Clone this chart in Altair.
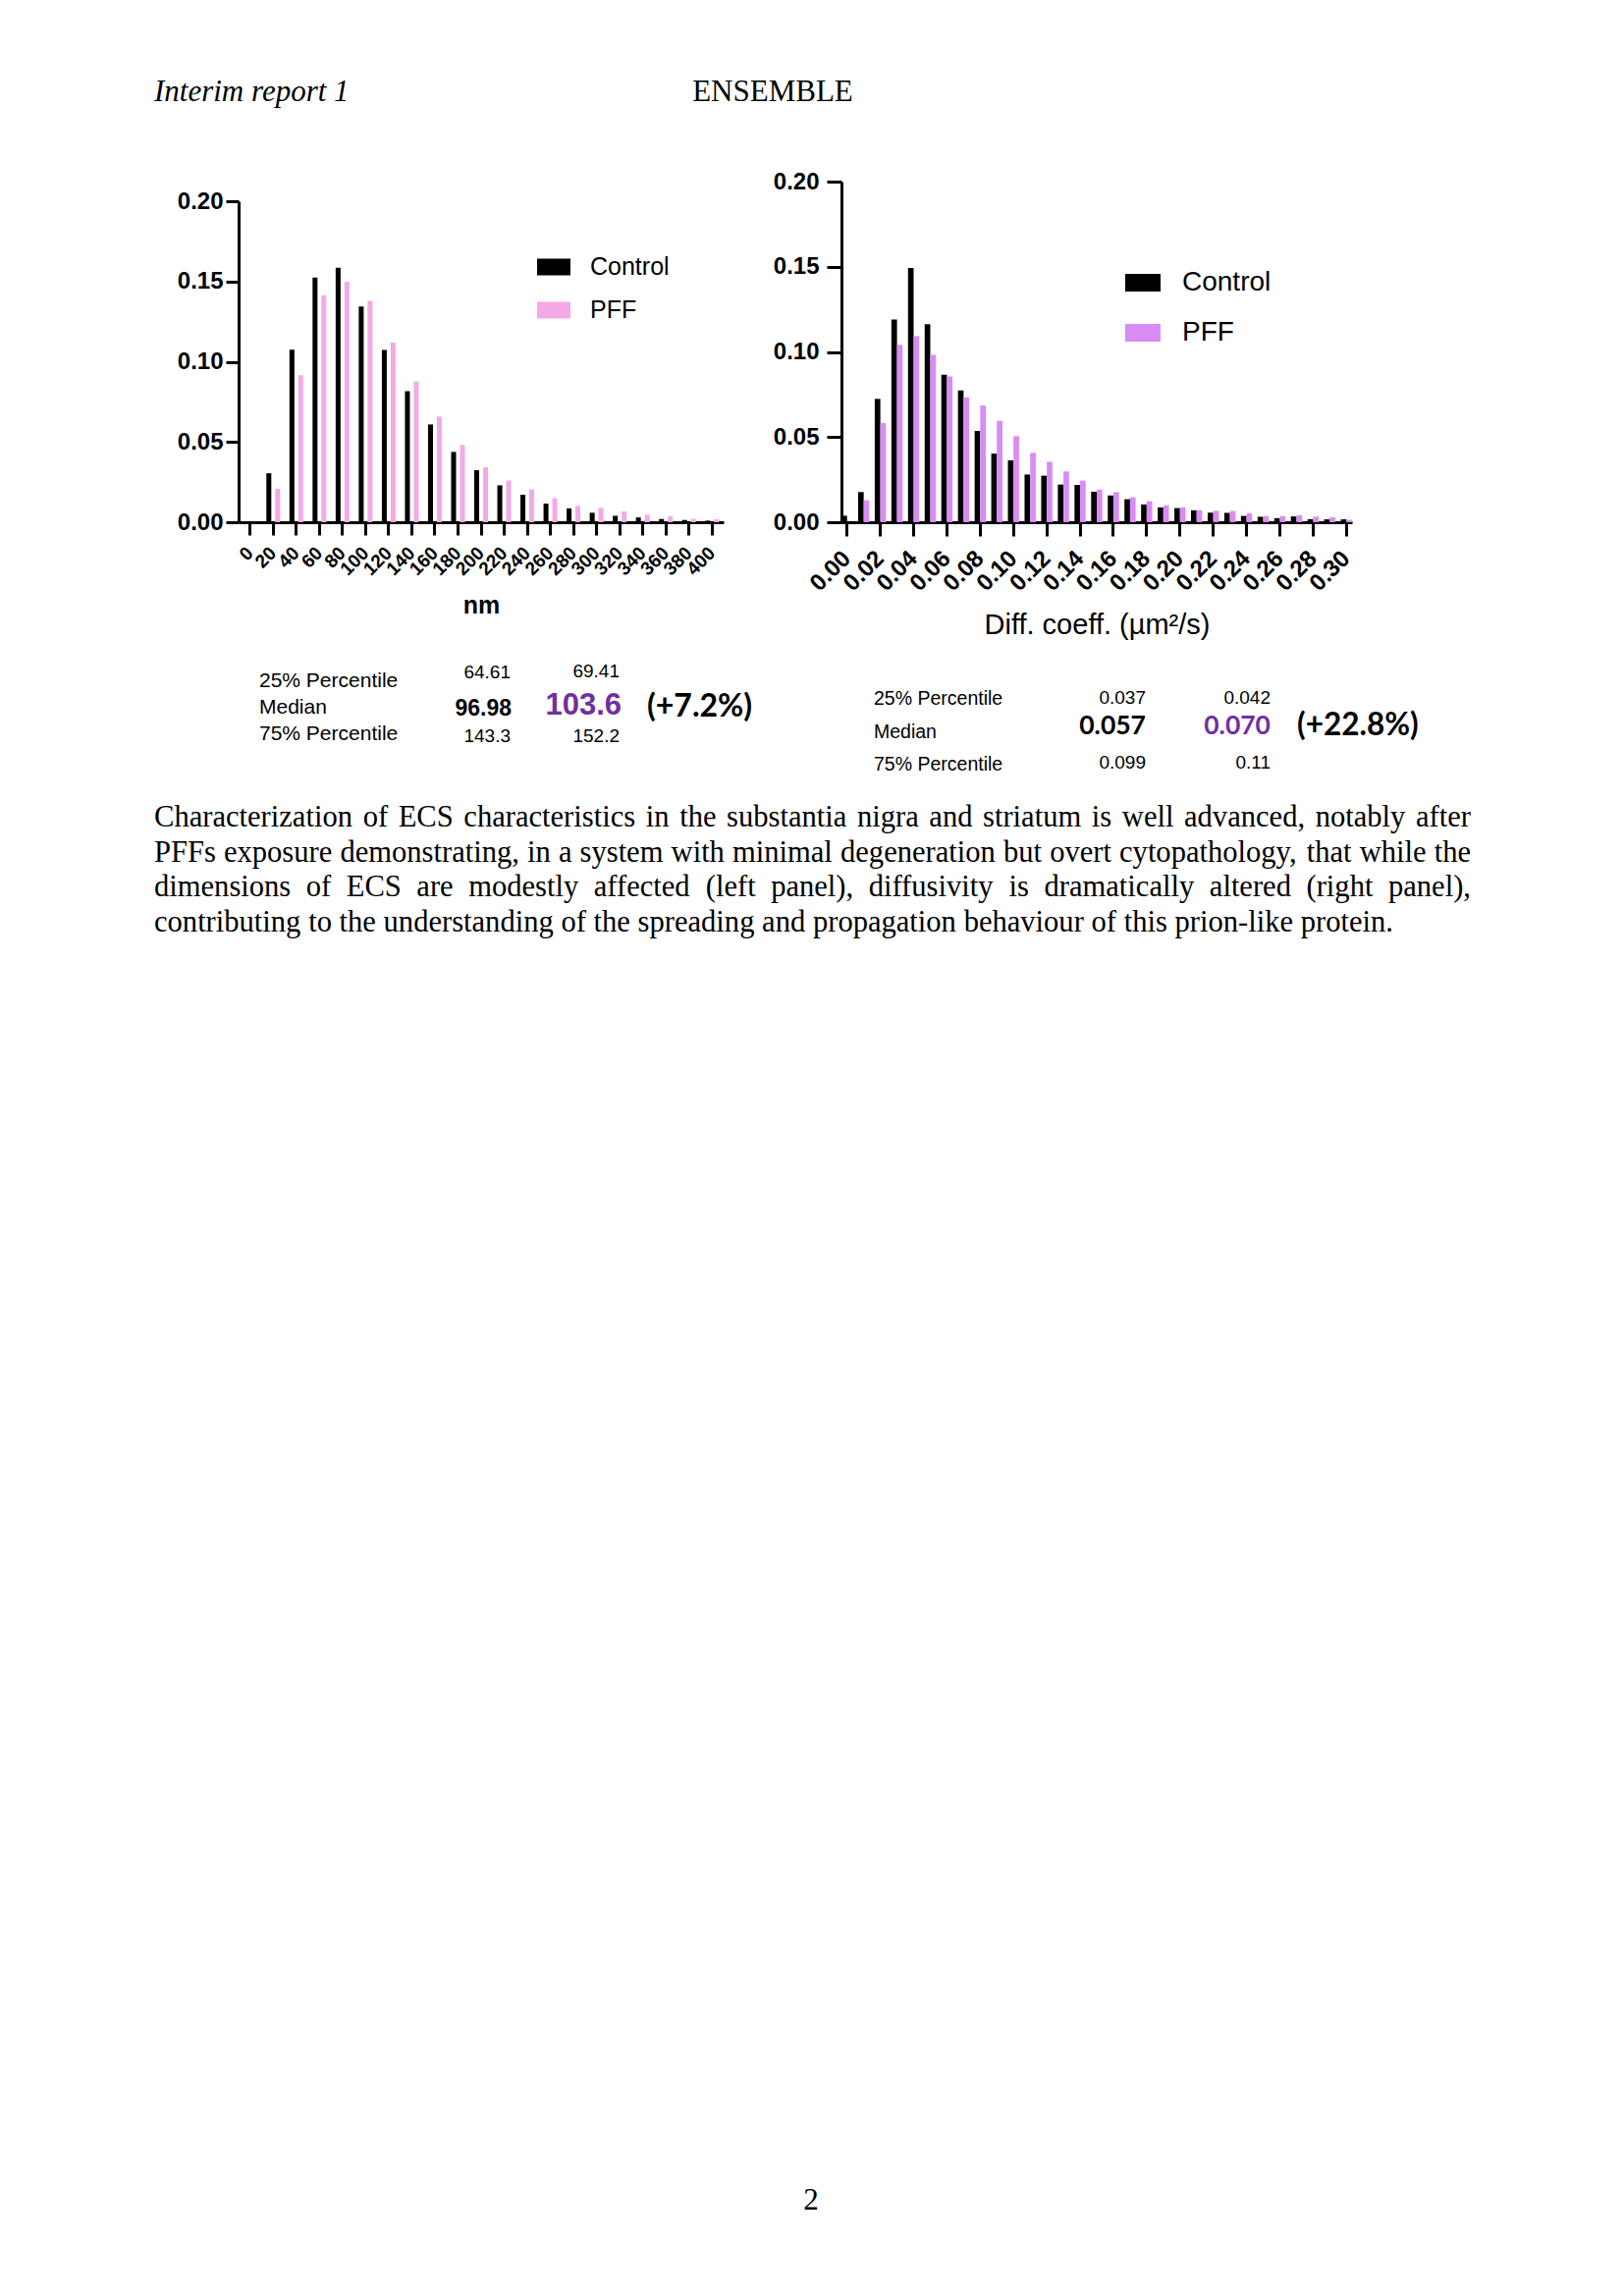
import altair as alt
import pandas as pd

# ---------------- data ----------------
series = ["Control", "PFF"]

nm_bins = ["0", "20", "40", "60", "80", "100", "120", "140", "160", "180", "200",
           "220", "240", "260", "280", "300", "320", "340", "360", "380", "400"]
nm_control = [0.0, 0.0305, 0.1075, 0.1525, 0.1585, 0.1344, 0.1073, 0.0817, 0.0609, 0.0438, 0.0324,
              0.0230, 0.0172, 0.0116, 0.0086, 0.0059, 0.0040, 0.0030, 0.0020, 0.0014, 0.0010]
nm_pff = [0.0, 0.0208, 0.0916, 0.1415, 0.1499, 0.1379, 0.1120, 0.0876, 0.0658, 0.0481, 0.0342,
          0.0260, 0.0204, 0.0150, 0.0103, 0.0090, 0.0068, 0.0046, 0.0036, 0.0022, 0.0018]

diff_bins = ["0.00", "0.01", "0.02", "0.03", "0.04", "0.05", "0.06", "0.07", "0.08", "0.09",
             "0.10", "0.11", "0.12", "0.13", "0.14", "0.15", "0.16", "0.17", "0.18", "0.19",
             "0.20", "0.21", "0.22", "0.23", "0.24", "0.25", "0.26", "0.27", "0.28", "0.29", "0.30"]
diff_ticks = ["0.00", "0.02", "0.04", "0.06", "0.08", "0.10", "0.12", "0.14",
              "0.16", "0.18", "0.20", "0.22", "0.24", "0.26", "0.28", "0.30"]
diff_control = [0.0038, 0.0177, 0.0724, 0.1190, 0.1493, 0.1163, 0.0866, 0.0774, 0.0536, 0.0403,
                0.0363, 0.0280, 0.0273, 0.0221, 0.0219, 0.0179, 0.0157, 0.0135, 0.0104, 0.0087,
                0.0083, 0.0070, 0.0056, 0.0055, 0.0037, 0.0032, 0.0024, 0.0034, 0.0018, 0.0017, 0.0017]
diff_pff = [0.0, 0.0129, 0.0582, 0.1042, 0.1092, 0.0983, 0.0856, 0.0733, 0.0685, 0.0595,
            0.0505, 0.0407, 0.0355, 0.0298, 0.0244, 0.0192, 0.0177, 0.0146, 0.0123, 0.0099,
            0.0087, 0.0070, 0.0067, 0.0066, 0.0052, 0.0036, 0.0036, 0.0041, 0.0033, 0.0029, 0.0014]

y_ticks = [0, 0.05, 0.10, 0.15, 0.20]

row_labels = ["25% Percentile", "Median", "75% Percentile"]
left_control_stats = ["64.61", "96.98", "143.3"]
left_pff_stats = ["69.41", "103.6", "152.2"]
left_change = "(+7.2%)"
right_control_stats = ["0.037", "0.057", "0.099"]
right_pff_stats = ["0.042", "0.070", "0.11"]
right_change = "(+22.8%)"

header_left = "Interim report 1"
header_center = "ENSEMBLE"
page_number = "2"
paragraph_lines = [
    "Characterization of ECS characteristics in the substantia nigra and striatum is well advanced, notably after",
    "PFFs exposure demonstrating, in a system with minimal degeneration but overt cytopathology, that while the",
    "dimensions of ECS are modestly affected (left panel), diffusivity is dramatically altered (right panel),",
    "contributing to the understanding of the spreading and propagation behaviour of this prion-like protein.",
]

# ---------------- layout helpers ----------------
M = 8  # page margin of the html page
W, H = 1638, 2323
SANS = "Liberation Sans"
SERIF = "Liberation Serif"
CAL = "Lato"
PURPLE = "#7030A0"
PINK = "#F4A9E6"
VIOLET = "#D88CF4"


def txt(s, x, y, size, font=SANS, weight="normal", style="normal", align="left", color="black"):
    return alt.Chart(pd.DataFrame({"t": [s]})).mark_text(
        font=font, fontSize=size, fontWeight=weight, fontStyle=style,
        align=align, baseline="alphabetic", color=color
    ).encode(text="t:N", x=alt.value(x - M), y=alt.value(y - M))


def axis_style(**kw):
    base = dict(domainColor="black", domainWidth=3, tickColor="black", tickWidth=3,
                labelColor="black", labelFont=SANS, labelFontWeight="bold",
                grid=False, labelOverlap=False, labelBound=False, labelFlush=False)
    base.update(kw)
    return alt.Axis(**base)


# ---------------- left histogram ----------------
left_df = pd.DataFrame({
    "bin": nm_bins * 2,
    "series": ["Control"] * len(nm_bins) + ["PFF"] * len(nm_bins),
    "value": nm_control + nm_pff,
})
left_bars = alt.Chart(left_df).mark_bar(strokeWidth=0).encode(
    x=alt.X("bin:N", sort=nm_bins,
            scale=alt.Scale(domain=nm_bins, range=[243 - M, 737 - M], paddingInner=0.405, paddingOuter=0.2025),
            axis=axis_style(orient="bottom", offset=(532 - M) - H, labelAngle=315, labelAlign="right",
                            labelBaseline="middle", labelFontSize=19, labelPadding=15, tickSize=13,
                            title="nm", titleFont=SANS, titleFontSize=25, titleFontWeight="bold",
                            titleColor="black", titleX=490 - M, titleY=92, titleAlign="center",
                            titleBaseline="alphabetic", titleAnchor="start")),
    xOffset=alt.XOffset("series:N", scale=alt.Scale(domain=series, paddingInner=0.44, paddingOuter=0)),
    y=alt.Y("value:Q",
            scale=alt.Scale(domain=[0, 0.2], range=[532 - M, 205 - M], nice=False, zero=True),
            axis=axis_style(orient="left", offset=-(243 - M), values=y_ticks, format=".2f",
                            labelFontSize=24, labelPadding=3, tickSize=13, title=None)),
    color=alt.Color("series:N", scale=alt.Scale(domain=series, range=["#000000", PINK]),
                    legend=alt.Legend(orient="none", legendX=547 - M, legendY=255 - M, title=None,
                                      symbolType="M-1,-0.5H1V0.5H-1Z", symbolSize=1156,
                                      symbolStrokeWidth=0, symbolOpacity=1, labelFont=SANS,
                                      labelFontSize=25, labelColor="black", labelOffset=20,
                                      rowPadding=14, padding=0)),
)

# ---------------- right histogram ----------------
right_df = pd.DataFrame({
    "bin": diff_bins * 2,
    "series": ["Control"] * len(diff_bins) + ["PFF"] * len(diff_bins),
    "value": diff_control + diff_pff,
})
right_bars = alt.Chart(right_df).mark_bar(strokeWidth=0).encode(
    x=alt.X("bin:N", sort=diff_bins,
            scale=alt.Scale(domain=diff_bins, range=[857 - M, 1377 - M], paddingInner=0.327, paddingOuter=0),
            axis=axis_style(orient="bottom", offset=(532 - M) - H, values=diff_ticks, labelAngle=315,
                            labelAlign="right", labelBaseline="middle", labelFontSize=24, labelPadding=19,
                            tickSize=14, title="Diff. coeff. (µm²/s)", titleFont=SANS, titleFontSize=29,
                            titleFontWeight="normal", titleColor="black", titleX=1117 - M, titleY=113,
                            titleAlign="center", titleBaseline="alphabetic", titleAnchor="start")),
    xOffset=alt.XOffset("series:N", scale=alt.Scale(domain=series, paddingInner=0, paddingOuter=0)),
    y=alt.Y("value:Q",
            scale=alt.Scale(domain=[0, 0.2], range=[532 - M, 185 - M], nice=False, zero=True),
            axis=axis_style(orient="left", offset=-(857 - M), values=y_ticks, format=".2f",
                            labelFontSize=24, labelPadding=8, tickSize=15, title=None)),
    color=alt.Color("series:N", scale=alt.Scale(domain=series, range=["#000000", VIOLET]),
                    legend=alt.Legend(orient="none", legendX=1146 - M, legendY=270 - M, title=None,
                                      symbolType="M-1,-0.5H1V0.5H-1Z", symbolSize=1296,
                                      symbolStrokeWidth=0, symbolOpacity=1, labelFont=SANS,
                                      labelFontSize=28, labelColor="black", labelOffset=22,
                                      rowPadding=19, padding=0)),
)

# ---------------- tables ----------------
texts = []
l_rows_y = [700, 727, 754]
for lab, yy in zip(row_labels, l_rows_y):
    texts.append(txt(lab, 264, yy, 21))
texts.append(txt(left_control_stats[0], 520, 691, 19, align="right"))
texts.append(txt(left_control_stats[1], 521, 729, 23, weight="bold", align="right"))
texts.append(txt(left_control_stats[2], 520, 756, 19, align="right"))
texts.append(txt(left_pff_stats[0], 631, 690, 19, align="right"))
texts.append(txt(left_pff_stats[1], 633, 728, 31, weight="bold", align="right", color=PURPLE))
texts.append(txt(left_pff_stats[2], 631, 756, 19, align="right"))
texts.append(txt(left_change, 659, 730, 32, font=CAL, weight="bold"))

r_rows_y = [718, 752, 785]
for lab, yy in zip(row_labels, r_rows_y):
    texts.append(txt(lab, 890, yy, 19.5))
texts.append(txt(right_control_stats[0], 1167, 717, 19, align="right"))
texts.append(txt(right_control_stats[1], 1167, 748, 26.5, font=CAL, weight="bold", align="right"))
texts.append(txt(right_control_stats[2], 1167, 783, 19, align="right"))
texts.append(txt(right_pff_stats[0], 1294, 717, 19, align="right"))
texts.append(txt(right_pff_stats[1], 1294, 748, 26.5, font=CAL, weight="bold", align="right", color=PURPLE))
texts.append(txt(right_pff_stats[2], 1294, 783, 19, align="right"))
texts.append(txt(right_change, 1321, 749, 31.5, font=CAL, weight="bold"))

# ---------------- header / footer ----------------
texts.append(txt(header_left, 157, 103, 31, font=SERIF, style="italic"))
texts.append(txt(header_center, 787, 103, 31, font=SERIF, align="center"))
texts.append(txt(page_number, 826, 2251, 31, font=SERIF, align="center"))

# ---------------- justified paragraph ----------------
TIMES = {" ": 250, ",": 250, ".": 250, "(": 333, ")": 333, "-": 333,
         "C": 667, "E": 611, "S": 556, "P": 556, "F": 556,
         "a": 444, "b": 500, "c": 444, "d": 500, "e": 444, "f": 333, "g": 500, "h": 500,
         "i": 278, "j": 278, "k": 500, "l": 278, "m": 778, "n": 500, "o": 500, "p": 500,
         "q": 500, "r": 333, "s": 389, "t": 278, "u": 500, "v": 500, "w": 722, "x": 500,
         "y": 500, "z": 444}


def em(s):
    return sum(TIMES.get(ch, 500) for ch in s) / 1000.0


left_x, right_x = 157, 1498
fs = 1262 / em(paragraph_lines[-1])
fs = max(28.0, min(32.0, fs))
line_y = [842, 878, 913, 949]
rows = []
for i, (line, yy) in enumerate(zip(paragraph_lines, line_y)):
    words = line.split(" ")
    widths = [em(w) * fs for w in words]
    if i < len(paragraph_lines) - 1:
        gap = (right_x - left_x - sum(widths)) / (len(words) - 1)
    else:
        gap = em(" ") * fs
    x = left_x
    for w, wd in zip(words, widths):
        rows.append({"word": w, "px": x - M, "py": yy - M})
        x += wd + gap
para_df = pd.DataFrame(rows)
paragraph = alt.Chart(para_df).mark_text(
    font=SERIF, fontSize=fs, align="left", baseline="alphabetic", color="black"
).encode(
    text="word:N",
    x=alt.X("px:Q", scale=None, axis=None),
    y=alt.Y("py:Q", scale=None, axis=None),
)

chart = alt.layer(left_bars, right_bars, paragraph, *texts).resolve_scale(
    x="independent", y="independent", color="independent", xOffset="independent"
).properties(
    width=W, height=H, autosize=alt.AutoSizeParams(type="none"), padding=0, background="white"
).configure_view(strokeWidth=0)

chart.save("out.html", embed_options={"renderer": "svg", "actions": False})
